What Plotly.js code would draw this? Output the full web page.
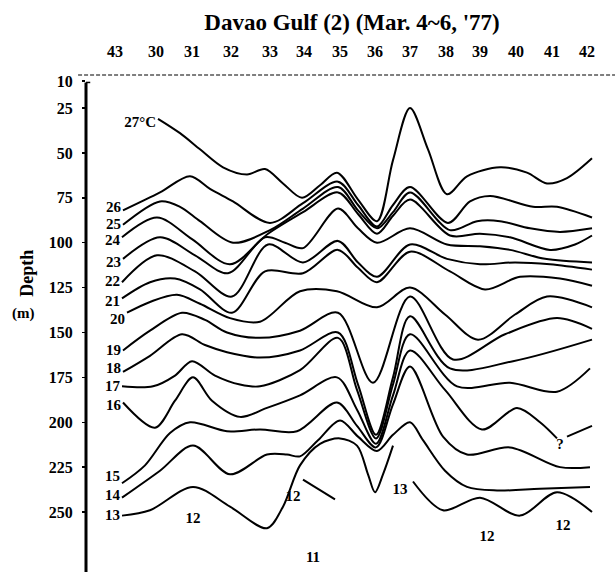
<!DOCTYPE html>
<html><head><meta charset="utf-8">
<script src="https://cdn.plot.ly/plotly-3.0.1.min.js"></script>
<style>html,body{margin:0;padding:0;background:#fff}#chart{width:615px;height:572px}</style>
</head><body><div id="chart"></div>
<script>
// Stations along the section (top axis) and their distance along the section
const stations = ['43','30','31','32','33','34','35','36','37','38','39','40','41','42'];
const stationDist = [0,41,77,116,155,189,225,260,295,331,365,401,437,472];
const depthTicks = [10,25,50,75,100,125,150,175,200,225,250];

// Isotherms: distance along section (x) and depth in m (d)
const iso27_x = [43,65,85,108,132,150,168,187,205,222,243,262,278,295,313,332,352,385,412,432,452,477];
const iso27_d = [31,39,48,58,62,59,67,75,68,61,76,88,54,25,48,73,63,58,61,67,64,53];
const iso26_x = [8,45,75,95,118,155,188,223,243,262,278,295,333,355,375,418,442,477];
const iso26_d = [82,72,63,70,77,89,78,66,79,91,79,69,89,77,74,80,80,86];
const iso25_x = [8,45,65,85,118,155,188,223,243,262,278,295,335,362,385,415,445,477];
const iso25_d = [90,77,80,88,100,93,81,69,82,92,83,72,93,88,88,92,94,92];
const iso24_x = [7,42,77,115,153,188,223,243,262,278,295,335,365,395,435,460,477];
const iso24_d = [97,86,98,112,95,83,72,84,95,85,76,96,95,97,104,101,96];
const iso23_x = [8,45,80,113,150,170,188,223,243,262,295,332,365,395,430,477];
const iso23_d = [109,97,107,117,97,100,103,81,92,100,92,101,102,104,109,111];
const iso22_x = [7,42,80,117,153,188,223,243,262,295,332,365,400,435,477];
const iso22_d = [122,107,116,130,101,111,99,111,119,101,109,112,111,112,115];
const iso21_x = [7,35,60,85,117,150,188,223,243,262,295,335,370,405,445,477];
const iso21_d = [131,122,120,126,139,116,117,104,114,122,105,116,126,119,120,124];
const iso20_x = [12,35,62,85,115,145,185,222,262,295,330,363,400,432,477];
const iso20_d = [139,133,129,134,142,144,127,127,136,125,140,154,140,130,136];
const iso19_x = [8,35,67,90,112,145,185,223,258,295,338,390,442,477];
const iso19_d = [160,149,139,143,150,153,149,139,178,130,165,151,142,148];
const iso18_x = [8,35,67,90,112,145,185,223,243,261,278,295,335,398,477];
const iso18_d = [172,163,151,157,161,164,160,150,179,207,175,141,170,166,154];
const iso17_x = [7,38,60,77,100,125,145,185,223,242,261,278,295,342,395,442,475];
const iso17_d = [180,180,174,166,174,179,180,171,153,182,209,179,151,180,178,183,170];
const iso16_x = [8,40,60,78,97,125,152,185,222,242,261,278,295,330,367,402,425,442,null,452,477];
const iso16_d = [189,203,188,175,188,197,192,185,175,193,212,185,160,182,204,192,200,209,null,208,202];
const iso15_x = [7,30,55,75,112,145,182,222,242,261,278,295,328,352,395,445,475];
const iso15_d = [234,224,206,200,205,204,205,189,202,214,190,169,208,218,214,225,225];
const iso14_x = [7,45,78,115,152,172,185,203,225,243,262,278,295,308,330,352,382,425,475];
const iso14_d = [242,227,213,229,218,218,219,210,199,208,216,207,200,210,227,236,238,237,236];
const iso13_x = [7,35,78,115,152,168,185,205,225,242,253,260,268,278,null,298,328,365,405,442,477];
const iso13_d = [252,249,236,247,259,247,224,212,209,213,229,239,229,213,null,233,249,242,252,239,250];
const iso12_x = [188,220];
const iso12_d = [232,243];

const isoNames = ['27°C','26','25','24','23','22','21','20','19','18','17','16','15','14','13'];
const isoX = [iso27_x,iso26_x,iso25_x,iso24_x,iso23_x,iso22_x,iso21_x,iso20_x,iso19_x,iso18_x,iso17_x,iso16_x,iso15_x,iso14_x,iso13_x];
const isoD = [iso27_d,iso26_d,iso25_d,iso24_d,iso23_d,iso22_d,iso21_d,iso20_d,iso19_d,iso18_d,iso17_d,iso16_d,iso15_d,iso14_d,iso13_d];

// Loose contour labels inside the section
const extraText = ['12','12','11','13','12','12','?'];
const extraX = [78,178,198,285,372,448,445];
const extraD = [254,242,276,238,264,258,213];

const FONT = '"Liberation Serif", "DejaVu Serif", "Times New Roman", serif';
const lineStyle = {color:'#000', width:2, shape:'spline', smoothing:0.9};
// vertical nudge (px, + = down) of each label relative to the start of its line
const labelNudge = [4,-2,0,4,4,0,4,8,1,-3,1,4,-6,-1,1];
const Y_RANGE = [283.4, 6.6];
const PX_PER_M = 497/(Y_RANGE[0]-Y_RANGE[1]);

const traces = isoX.map((xs,i)=>({
  type:'scatter', mode:'lines', x:xs, y:isoD[i], name:isoNames[i],
  line:lineStyle, connectgaps:false, hoverinfo:'skip'
}));
traces.push({type:'scatter', mode:'lines', x:iso12_x, y:iso12_d, line:lineStyle, hoverinfo:'skip'});
traces.push({type:'scatter', mode:'text', x:isoX.map(a=>a[0]-2),
  y:isoD.map((a,i)=>a[0]+labelNudge[i]/PX_PER_M), text:isoNames, textposition:'middle left',
  textfont:{family:FONT, size:15, color:'#000', weight:'bold'}, hoverinfo:'skip', cliponaxis:false});
traces.push({type:'scatter', mode:'text', x:extraX, y:extraD, text:extraText, textposition:'middle center',
  textfont:{family:FONT, size:15, color:'#000', weight:'bold'}, hoverinfo:'skip', cliponaxis:false});

const annotations = [
  {x:-0.1115, y:0.60, xref:'paper', yref:'paper', text:'Depth', textangle:-90,
   showarrow:false, xanchor:'center', yanchor:'middle', font:{family:FONT, size:18, color:'#000', weight:'bold'}},
  {x:-0.119, y:0.52, xref:'paper', yref:'paper', text:'(m)',
   showarrow:false, xanchor:'center', yanchor:'middle', font:{family:FONT, size:15, color:'#000', weight:'bold'}}
];

const layout = {
  width:615, height:572,
  margin:{l:86, r:0, t:75, b:0, pad:0},
  paper_bgcolor:'#fff', plot_bgcolor:'#fff', showlegend:false,
  font:{family:FONT, color:'#000', size:16, weight:'bold'},
  title:{text:"Davao Gulf (2) (Mar. 4~6, '77)", x:352/615, xref:'container', xanchor:'center',
         y:1-22/572, yref:'container', yanchor:'middle', font:{family:FONT, size:23, color:'#000', weight:'bold'}},
  xaxis:{range:[-29,500], side:'top', tickmode:'array', tickvals:stationDist, ticktext:stations,
         showgrid:false, zeroline:false, showline:false, ticks:'', ticklabelstandoff:14,
         tickfont:{family:FONT, size:16, color:'#000', weight:'bold'}, fixedrange:true},
  yaxis:{range:Y_RANGE, tickmode:'array', tickvals:depthTicks, showgrid:false, zeroline:false,
         showline:false, ticks:'outside', ticklen:3, tickwidth:1.5, tickcolor:'#000',
         ticklabelstandoff:6, tickfont:{family:FONT, size:16, color:'#000', weight:'bold'}, fixedrange:true},
  shapes:[
    {type:'line', xref:'paper', yref:'paper', x0:-0.015, x1:1, y0:1, y1:1,
     line:{color:'#000', width:1.2, dash:'4px,2px'}},
    {type:'line', xref:'paper', yref:'paper', x0:0, x1:0, y0:0, y1:0.985,
     line:{color:'#000', width:3}},
    {type:'line', xref:'paper', yref:'paper', x0:0, x1:0.008, y0:0.985, y1:0.985,
     line:{color:'#000', width:1.5}}
  ],
  annotations:annotations
};
Plotly.newPlot('chart', traces, layout, {displayModeBar:false, staticPlot:true});
</script></body></html>
